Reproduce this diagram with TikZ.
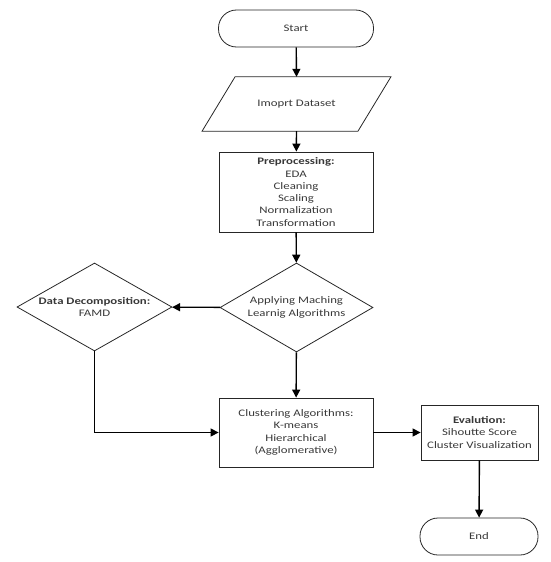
\documentclass[tikz,border=0pt]{standalone}
\usepackage{fontspec}
\setmainfont{Carlito}[FakeStretch=1.28]
\usetikzlibrary{shapes.geometric,arrows.meta}
\begin{document}
\begin{tikzpicture}[x=1pt,y=-1pt,
  every node/.style={font=\fontsize{10}{12.3}\selectfont, text=black!78, align=center, inner sep=0pt},
  shapeline/.style={draw=black!85, line width=0.8pt},
  box/.style={shapeline, rectangle},
  term/.style={shapeline, rectangle, rounded corners=18pt},
  decision/.style={shapeline, diamond, aspect=1.75},
  flow/.style={line width=1.4pt, black, -{Triangle[length=8pt,width=8pt]}}
]
\useasboundingbox (0,0) rectangle (550,562);

\node[term, minimum width=155pt, minimum height=37pt] (start) at (296,28.5) {Start};
\node[minimum width=155.5pt, minimum height=54pt] (imp) at (296.5,104) {Imoprt Dataset};
\draw[shapeline] ([xshift=16.5pt]imp.north west) -- ([xshift=16.5pt]imp.north east)
  -- ([xshift=-16.5pt]imp.south east) -- ([xshift=-16.5pt]imp.south west) -- cycle;
\node[box, minimum width=154pt, minimum height=80pt] (pre) at (296,192)
  {\textbf{Preprocessing:}\\EDA\\Cleaning\\Scaling\\Normalization\\Transformation};
\node[decision, minimum width=153pt, minimum height=89pt] (app) at (296.5,307.5)
  {Applying Maching\\Learnig Algorithms};
\node[decision, minimum width=155pt, minimum height=88pt] (dec) at (94.5,307)
  {\textbf{Data Decomposition:}\\FAMD};
\node[box, minimum width=154pt, minimum height=69pt] (clu) at (296,432.5)
  {Clustering Algorithms:\\K-means\\Hierarchical\\(Agglomerative)};
\node[box, minimum width=117pt, minimum height=55pt] (eva) at (479.5,432.5)
  {\textbf{Evalution:}\\Sihoutte Score\\Cluster Visualization};
\node[term, minimum width=118pt, minimum height=37pt] (stop) at (479,536.5) {End};

\draw[flow] (start) -- (imp.north);
\draw[flow] (imp.south) -- (pre);
\draw[flow] (pre) -- (app);
\draw[flow] (app) -- (dec);
\draw[flow] (app) -- (clu);
\draw[flow] (dec.south) |- (clu.west);
\draw[flow] (clu) -- (eva);
\draw[flow] (eva) -- (stop);
\end{tikzpicture}
\end{document}
